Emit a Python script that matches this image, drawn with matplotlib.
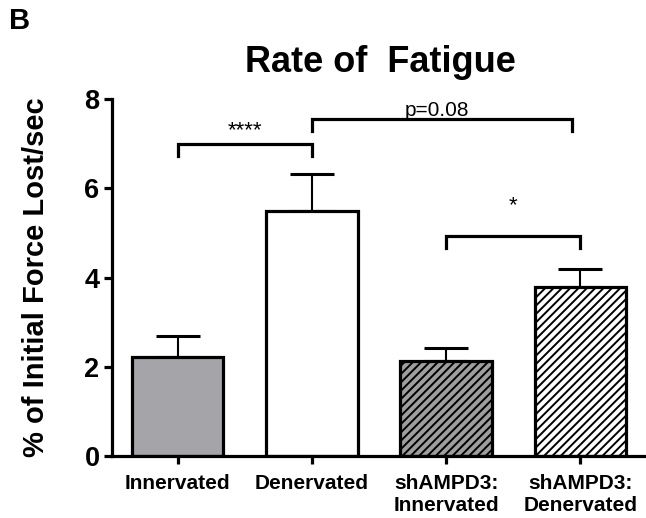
import numpy as np
import matplotlib
matplotlib.use("Agg")
import matplotlib.pyplot as plt

plt.rcParams['font.family'] = ['Liberation Sans', 'DejaVu Sans']
plt.rcParams['hatch.linewidth'] = 1.4

# data
groups = ['Innervated', 'Denervated', 'shAMPD3:\nInnervated', 'shAMPD3:\nDenervated']
means = [2.22, 5.48, 2.12, 3.78]
sem = [0.47, 0.83, 0.29, 0.41]
fills = ['#a4a4a9', 'white', '#9e9e9e', 'white']
hatches = ['', '', '////', '////']

# significance brackets: (left bar, right bar, height, label)
brackets = [(0, 1, 7.0, '****'), (1, 2.94, 7.56, 'p=0.08'), (2, 3, 4.93, '*')]
leg = 0.27

fig = plt.figure(figsize=(6.46, 5.18), dpi=100)
ax = fig.add_axes([112/646, 62/518, 534/646, 357/518])

x = np.arange(len(groups))
ax.bar(x, means, width=0.68, color=fills, edgecolor='black', linewidth=2.3,
       hatch=hatches, zorder=2)
ax.errorbar(x, means, yerr=[np.zeros(len(sem)), sem], fmt='none', ecolor='black',
            elinewidth=1.5, capsize=16, capthick=2.2, zorder=1)

for a, b, h, lab in brackets:
    ax.plot([a, a, b, b], [h - leg, h, h, h - leg], color='black', lw=2.3,
            solid_joinstyle='miter', clip_on=False)
for a, b, h, lab in brackets:
    if lab == 'p=0.08':
        ax.text(1.93, h + 0.07, lab, ha='center', va='baseline', fontsize=15)
    elif lab == '****':
        ax.text((a + b) / 2, h + 0.3, lab, ha='center', va='center', fontsize=16)
    else:
        ax.text((a + b) / 2, h + 0.45, lab, ha='center', va='bottom', fontsize=16)

ax.set_xlim(-0.49, 3.49)
ax.set_ylim(0, 8)
ax.set_yticks([0, 2, 4, 6, 8])
ax.set_xticks(x)
ax.set_xticklabels(groups, fontsize=15, fontweight='bold', linespacing=1.2)
for t in ax.get_yticklabels():
    t.set_fontsize(19.5)
    t.set_fontweight('bold')
ax.tick_params(axis='both', length=6, width=2.3, direction='out')
ax.tick_params(axis='x', pad=7)
ax.tick_params(axis='y', pad=3)
for s in ['top', 'right']:
    ax.spines[s].set_visible(False)
for s in ['left', 'bottom']:
    ax.spines[s].set_linewidth(2.3)

ax.set_ylabel('% of Initial Force Lost/sec', fontsize=21, fontweight='bold')
ax.yaxis.set_label_coords(-0.116, 0.5)

fig.text(380/646, 1 - 62/518, 'Rate of  Fatigue', ha='center', va='center',
         fontsize=26, fontweight='bold')
fig.text(20/646, 1 - 21/518, 'B', ha='center', va='center', fontsize=21, fontweight='bold')

fig.savefig('out.png', dpi=100)
